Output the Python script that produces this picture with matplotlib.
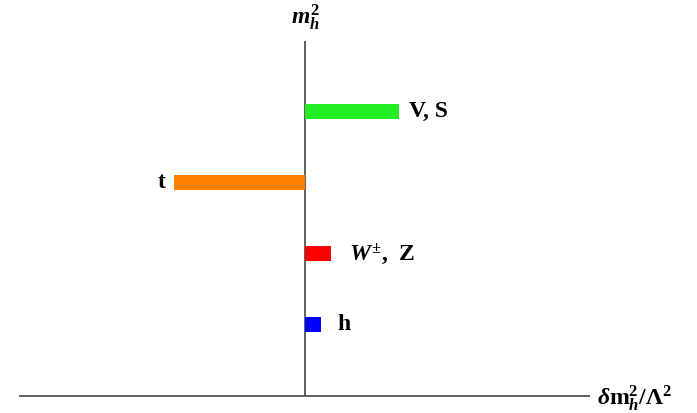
import matplotlib
matplotlib.use("Agg")
import matplotlib.pyplot as plt

# contributions to the Higgs mass shift (units: V,S = 1)
labels = ["h", "$W^{\\pm}$,  Z", "t", "V, S"]
shifts = [0.16, 0.27, -1.40, 1.00]
levels = [1, 2, 3, 4]
colors = ["#0000ff", "#ff0000", "#ff8000", "#22ee22"]
# label gap from the bar end, in points
label_gaps = [12, 13, -6, 7]

plt.rcParams["mathtext.fontset"] = "custom"
plt.rcParams["mathtext.rm"] = "Liberation Serif:bold"
plt.rcParams["mathtext.bf"] = "Liberation Serif:bold"
plt.rcParams["mathtext.it"] = "Liberation Serif:italic:bold"
plt.rcParams["font.family"] = ["Liberation Serif", "DejaVu Serif"]

fig = plt.figure(figsize=(6.97, 4.13), dpi=100)
ax = fig.add_axes([0, 0, 1, 1])
ax.set_xlim(-3.25, 4.165)
ax.set_ylim(-0.244, 5.573)
ax.axis("off")

# axes lines
ax.plot([-3.05, 3.03], [0, 0], color="#444444", lw=1.2, solid_capstyle="butt")
ax.plot([0, 0], [0, 5.0], color="#444444", lw=1.2, solid_capstyle="butt")

ax.barh(levels, shifts, height=0.21, color=colors, zorder=3)

for lab, s, lv, g in zip(labels, shifts, levels, label_gaps):
    ax.annotate(lab, xy=(s, lv), xytext=(g, 0), textcoords="offset points",
                ha="left" if s > 0 else "right", va="center",
                fontsize=17, fontweight="bold")

ax.text(0, 5.33, "$m_h^2$", ha="center", va="center", fontsize=17)
ax.text(3.1, -0.03, "$\\delta \\mathrm{m}_h^2/\\Lambda^2$", ha="left", va="center",
        fontsize=17)

fig.savefig("out.png", dpi=100)
